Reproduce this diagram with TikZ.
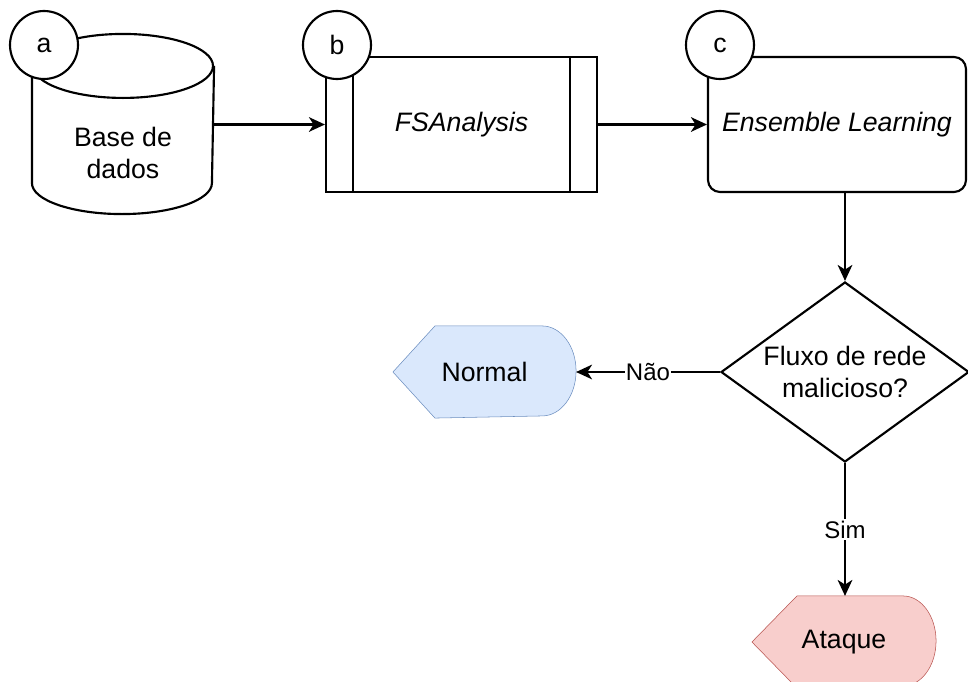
\documentclass[tikz,border=0pt]{standalone}
\usepackage{fontspec}
\setmainfont{Liberation Sans}
\usetikzlibrary{shapes.geometric,arrows.meta,calc,backgrounds}

\definecolor{normalFill}{HTML}{DAE8FC}
\definecolor{normalLine}{HTML}{6C8EBF}
\definecolor{ataqueFill}{HTML}{F8CECC}
\definecolor{ataqueLine}{HTML}{B85450}

\tikzset{every picture/.style={line width=1.6pt}}
\tikzset{
  txt/.style={font=\fontsize{20}{24}\selectfont, align=center},
  lbl/.style={font=\fontsize{18}{22}\selectfont, fill=white, inner sep=1pt},
  tag/.style={circle, draw, fill=white, minimum size=51pt, inner sep=0pt, txt},
  arr/.style={-{Stealth[length=12pt,width=11pt,inset=3.5pt]}},
  dispbox/.style={minimum width=#1, minimum height=67.5pt, inner sep=0pt, txt},
}

\begin{document}
\begin{tikzpicture}[x=0.75pt,y=0.75pt,yscale=-1,xscale=1]
		\useasboundingbox (0,0) rectangle (968,682);

		% Database
		\node [minimum width=135pt, minimum height=133.5pt, inner sep=0pt, label={[txt,yshift=-22pt]center:{Base de\\dados}}] (db) at (123,124) {};
		\draw ($(db.north)+(0,32)$) ellipse [x radius=67.5pt, y radius=24pt];
		\draw ($(db.north west)+(0,32)$) -- ($(db.south west)+(0,-31)$) arc [start angle=180, end angle=0, x radius=67.5pt, y radius=23.25pt] -- ($(db.north east)+(0,32)$);
		% Process
		\node [draw, rectangle, minimum width=203.25pt, minimum height=101.25pt, txt, font=\fontsize{20}{24}\selectfont\itshape,
		  path picture={\draw ([xshift=20.25pt]path picture bounding box.north west) -- ([xshift=20.25pt]path picture bounding box.south west);
		                \draw ([xshift=-20.25pt]path picture bounding box.north east) -- ([xshift=-20.25pt]path picture bounding box.south east);}] (fsa) at (461.5,124.5) {FSAnalysis};
		% Rounded box
		\node [draw, rectangle, rounded corners=9pt, minimum width=193.5pt, minimum height=101.25pt, txt, font=\fontsize{20}{24}\selectfont\itshape] (ens) at (837,124.5) {Ensemble Learning};
		% Decision
		\node [draw, diamond, aspect=1.378, minimum width=186pt, minimum height=135pt, inner sep=0pt, label={[txt]center:{Fluxo de rede\\malicioso?}}] (dec) at (845,372) {};

		% Display shapes
		\node [dispbox=135.75pt] (nor) at (484.5,372) {Normal};
		\node [dispbox=136.5pt] (atk) at (844,642) {Ataque};
		\begin{scope}[on background layer]
		\draw [fill=normalFill, draw=normalLine] (nor.west) -- ($(nor.north west)+(42,0)$) -- ($(nor.north east)+(-34,0)$) arc [start angle=-90, end angle=90, x radius=25.5pt, y radius=33.75pt] -- ($(nor.south west)+(42,0)$) -- cycle;
		\draw [fill=ataqueFill, draw=ataqueLine] (atk.west) -- ($(atk.north west)+(45,0)$) -- ($(atk.north east)+(-33,0)$) arc [start angle=-90, end angle=90, x radius=24.75pt, y radius=33.75pt] -- ($(atk.south west)+(45,0)$) -- cycle;
		\end{scope}

		% Step tags
		\node [tag] (ta) at (44,45) {a};
		\node [tag] (tb) at (337,45) {b};
		\node [tag] (tc) at (720,45) {c};

		% Connectors
		\draw [arr] (db.east |- fsa.west) -- (fsa.west);
		\draw [arr] (fsa.east) -- (ens.west);
		\draw [arr] (ens.south -| dec.north) -- (dec.north);
		\draw [arr] (dec.west) -- node [lbl] {Não} (nor.east);
		\draw [arr] (dec.south) -- node [lbl] {Sim} (dec.south |- atk.north);

		\end{tikzpicture}
\end{document}
